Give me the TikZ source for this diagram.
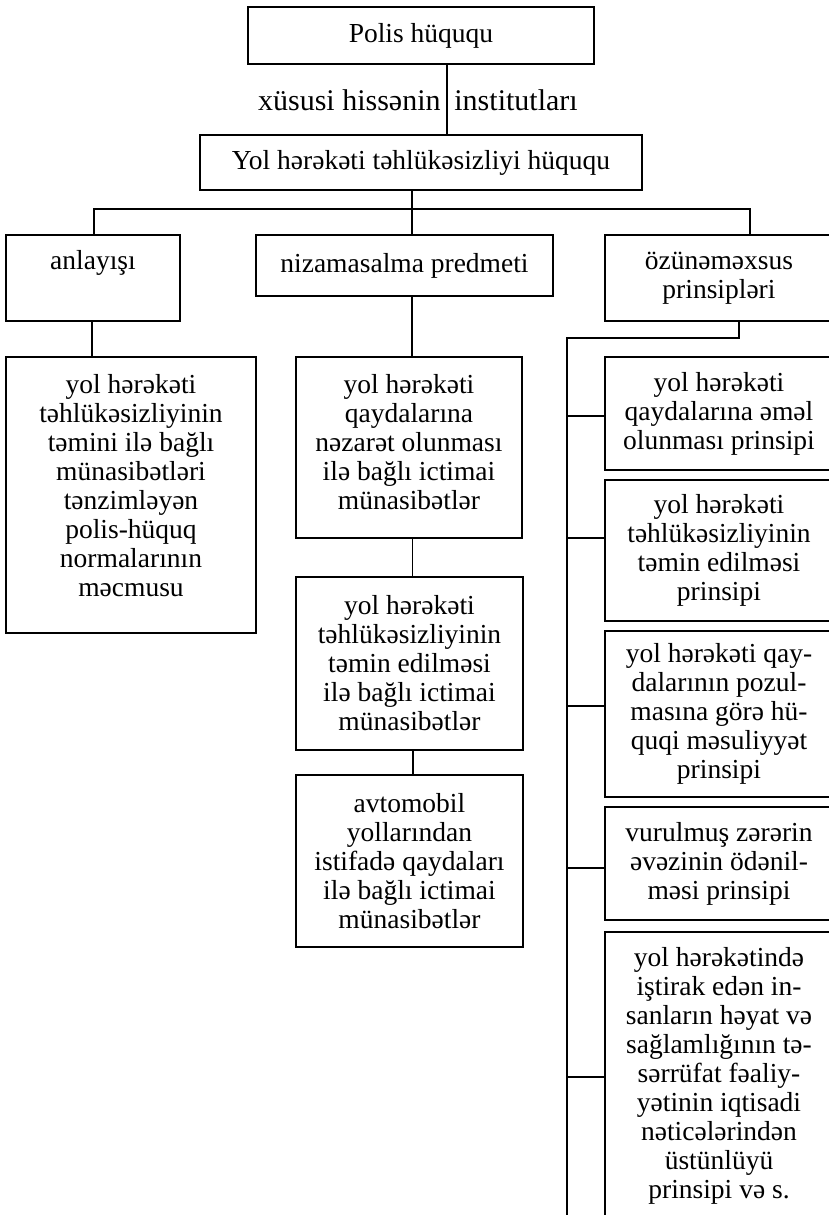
\documentclass[tikz,border=0pt]{standalone}
\usepackage{fontspec}
\setmainfont{Liberation Serif}
\begin{document}
\begin{tikzpicture}[x=0.5pt,y=-0.5pt,
  box/.style={draw, line width=0.9pt, inner sep=0pt, align=center, font=\fontsize{13.75pt}{14.5pt}\selectfont},
  txt/.style={inner sep=0pt, align=center, font=\fontsize{13.75pt}{14.5pt}\selectfont},
  lbl/.style={inner sep=0pt, font=\fontsize{15pt}{17pt}\selectfont},
  conn/.style={line width=0.9pt}]
\useasboundingbox (0,0) rectangle (829,1215);
\clip (0,0) rectangle (829,1215);

\node[box, minimum width=173pt, minimum height=28.5pt] (polis) at (421,35.5) {Polis hüququ};
\node[box, minimum width=221pt, minimum height=27.5pt] (yol) at (421,162.5) {Yol hərəkəti təhlükəsizliyi hüququ};
\node[lbl, anchor=east] (l1) at (441,100) {xüsusi hissənin};
\node[lbl, anchor=west] (l2) at (454,100) {institutları};

\node[box, minimum width=87pt, minimum height=43pt] (anl) at (93,278) {};
\node[txt] (anlt) at ([yshift=7.5pt]anl.center) {anlayışı};
\node[box, minimum width=148.5pt, minimum height=30.5pt] (niz) at (404.5,265.5) {nizamasalma predmeti};
\node[box, minimum width=114pt, minimum height=43pt] (ozu) at (719,278) {özünəməxsus\\prinsipləri};

\node[box, minimum width=125pt, minimum height=138pt] (anl2) at (131,495) {};
\node[txt] (anl2t) at ([yshift=4.5pt]anl2.center) {yol hərəkəti\\təhlükəsizliyinin\\təmini ilə bağlı\\münasibətləri\\tənzimləyən\\polis-hüquq\\normalarının\\məcmusu};

\node[box, minimum width=113pt, minimum height=90.5pt] (m1) at (409,447.5) {};
\node[txt] (m1t) at ([yshift=2.5pt]m1.center) {yol hərəkəti\\qaydalarına\\nəzarət olunması\\ilə bağlı ictimai\\münasibətlər};
\node[box, minimum width=113.5pt, minimum height=86.5pt] (m2) at (409.5,663.5) {yol hərəkəti\\təhlükəsizliyinin\\təmin edilməsi\\ilə bağlı ictimai\\münasibətlər};
\node[box, minimum width=113.5pt, minimum height=86pt] (m3) at (409.5,861) {avtomobil\\yollarından\\istifadə qaydaları\\ilə bağlı ictimai\\münasibətlər};

\node[box, minimum width=114pt, minimum height=56.5pt] (r1) at (719,413.5) {yol hərəkəti\\qaydalarına əməl\\olunması prinsipi};
\node[box, minimum width=114pt, minimum height=70.5pt] (r2) at (719,550.5) {yol hərəkəti\\təhlükəsizliyinin\\təmin edilməsi\\prinsipi};
\node[box, minimum width=114pt, minimum height=83pt] (r3) at (719,714) {yol hərəkəti qay-\\dalarının pozul-\\masına görə hü-\\quqi məsuliyyət\\prinsipi};
\node[box, minimum width=114pt, minimum height=56.5pt] (r4) at (719,863.5) {vurulmuş zərərin\\əvəzinin ödənil-\\məsi prinsipi};
\node[box, minimum width=114pt, minimum height=144pt] (r5) at (719,1076) {yol hərəkətində\\iştirak edən in-\\sanların həyat və\\sağlamlığının tə-\\sərrüfat fəaliy-\\yətinin iqtisadi\\nəticələrindən\\üstünlüyü\\prinsipi və s.};

\coordinate (tb) at (567,1220);

% connectors
\draw[conn] ([xshift=13pt]polis.south) -- ([xshift=13pt]yol.north);
\draw[conn] ([xshift=-4.5pt]yol.south) -- ([xshift=3.75pt]niz.north);
\draw[conn] ([xshift=0.5pt]anl.north) -- ++(0,-25) -| ([xshift=15.5pt]ozu.north);
\draw[conn] ([xshift=-0.5pt]anl.south) -- ([xshift=-0.5pt]anl.south |- anl2.north);
\draw[conn] ([xshift=3.75pt]niz.south) -- ([xshift=3.75pt]niz.south |- m1.north);
\draw[conn] ([xshift=1.75pt]m1.south) -- ([xshift=1.75pt]m1.south |- m2.north);
\draw[conn] ([xshift=1.75pt]m2.south) -- ([xshift=1.75pt]m2.south |- m3.north);
\draw[conn] ([xshift=10pt]ozu.south) -- ++(0,16) -| (tb);
\draw[conn] ([yshift=-1.25pt]r1.west) -- ++(-38,0);
\draw[conn] ([yshift=6.25pt]r2.west) -- ++(-38,0);
\draw[conn] ([yshift=4pt]r3.west) -- ++(-38,0);
\draw[conn] ([yshift=-2.25pt]r4.west) -- ++(-38,0);
\draw[conn] ([yshift=-0.5pt]r5.west) -- ++(-38,0);
\end{tikzpicture}
\end{document}
